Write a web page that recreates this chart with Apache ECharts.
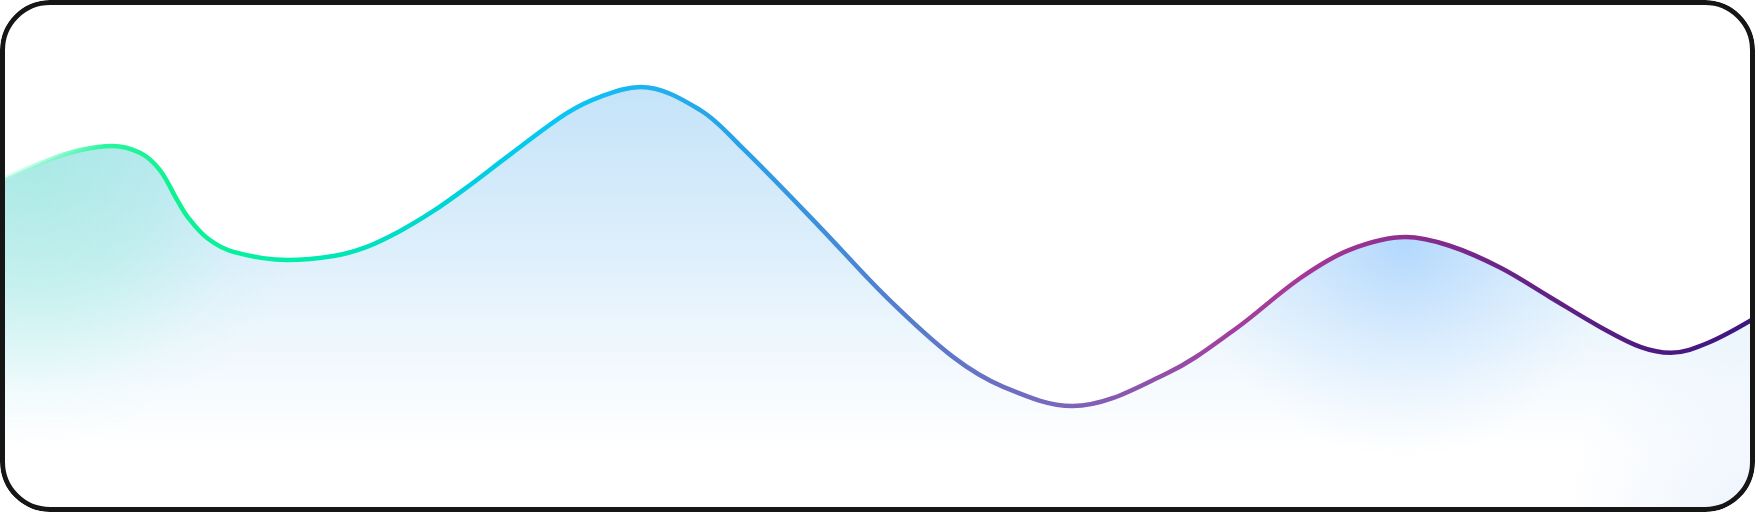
<!doctype html>
<html lang="en">
<head>
    <meta charset="UTF-8">
    <script src="https://cdn.jsdelivr.net/npm/echarts@6/dist/echarts.min.js"></script>
    <title>wave</title>
    <style>
        html, body { margin: 0; padding: 0; background: #fff; overflow: hidden; }
        #card { position: relative; width: 1755px; height: 512px; border-radius: 50px; overflow: hidden; }
        #main { position: absolute; left: 0; top: 0; width: 1755px; height: 512px; }
        #frame { position: absolute; left: 0; top: 0; width: 1755px; height: 512px; box-sizing: border-box;
                 border: 5px solid #161616; border-radius: 50px; pointer-events: none; }
    </style>
</head>
<body>
<div id="card">
    <div id="main"></div>
    <div id="frame"></div>
</div>
<script>
    // curve: x in % of width, y in % of height (0 = bottom)
    var xs = [0, 2.8, 4.6, 6.4, 8.0, 9.1, 10.1, 10.7, 11.8, 13.3, 16.4, 19.0, 20.9, 22.8, 24.7, 26.6,
              29.1, 32.3, 34.2, 36.5, 39.9, 42.3, 46.7, 50.5, 54.3, 57.2, 61.1, 66.5, 70.3, 74.1,
              76.9, 80.1, 82.6, 85.5, 88.3, 91.2, 93.5, 95.2, 97.3, 100];
    var ys = [64.8, 68.8, 70.7, 71.5, 70.1, 66.8, 60.9, 57.6, 53.5, 50.8, 49.2, 50.0, 51.8, 54.9, 58.8, 63.4,
              69.9, 77.9, 81.1, 83.0, 78.5, 71.1, 55.7, 42.0, 30.3, 24.4, 20.7, 27.1, 35.5, 45.7,
              51.2, 53.7, 52.0, 47.7, 42.0, 36.1, 32.2, 31.1, 33.0, 37.9];

    var points = [];
    for (var i = 0; i < xs.length; i++) {
        points.push([xs[i], ys[i]]);
    }

    var myChart = echarts.init(document.getElementById('main'));
    var G = echarts.graphic;
    var SMOOTH = 0.35;

    // same curve drawn several times, each one adds a layer of the fill
    function layer(name, fill) {
        return {
            name: name,
            type: 'line',
            data: points,
            smooth: SMOOTH,
            symbol: 'none',
            silent: true,
            lineStyle: {width: 0, opacity: 0},
            areaStyle: {color: fill}
        };
    }

    var option = {
        animation: false,
        grid: {left: 0, right: 0, top: 0, bottom: 0},
        xAxis: {type: 'value', min: 0, max: 100, show: false},
        yAxis: {type: 'value', min: 0, max: 100, show: false},
        series: [
            layer('base', new G.LinearGradient(0, 0, 0, 1, [
                {offset: 0, color: 'rgba(120,190,240,0.62)'},
                {offset: 0.38, color: 'rgba(120,190,240,0.36)'},
                {offset: 0.57, color: 'rgba(120,190,240,0.2)'},
                {offset: 0.74, color: 'rgba(120,190,240,0.07)'},
                {offset: 0.86, color: 'rgba(120,190,240,0)'}
            ])),
            layer('mint', new G.RadialGradient(0.02, 0.2, 0.8, [
                {offset: 0, color: 'rgba(90,235,185,0.45)'},
                {offset: 0.35, color: 'rgba(90,235,190,0.3)'},
                {offset: 0.65, color: 'rgba(90,235,200,0.05)'},
                {offset: 0.8, color: 'rgba(90,235,200,0)'}
            ])),
            layer('glow', new G.RadialGradient(0.8, 0.37, 0.5, [
                {offset: 0, color: 'rgba(130,190,255,0.65)'},
                {offset: 0.5, color: 'rgba(150,200,255,0.3)'},
                {offset: 1, color: 'rgba(170,210,255,0)'}
            ])),
            layer('corner', new G.RadialGradient(1, 1, 0.45, [
                {offset: 0, color: 'rgba(200,222,250,0.45)'},
                {offset: 1, color: 'rgba(200,222,250,0)'}
            ])),
            {
                name: 'line',
                type: 'line',
                data: points,
                smooth: SMOOTH,
                symbol: 'none',
                lineStyle: {
                    width: 4.5,
                    cap: 'round',
                    color: new G.LinearGradient(0, 0, 1, 0, [
                        {offset: 0, color: 'rgba(190,255,225,0.35)'},
                        {offset: 0.06, color: '#2bf5a0'},
                        {offset: 0.1, color: '#0ff291'},
                        {offset: 0.165, color: '#00eeaa'},
                        {offset: 0.23, color: '#00dcc8'},
                        {offset: 0.28, color: '#00cde6'},
                        {offset: 0.33, color: '#0cc3f6'},
                        {offset: 0.365, color: '#1eb3ef'},
                        {offset: 0.425, color: '#2aa0e6'},
                        {offset: 0.505, color: '#5080d0'},
                        {offset: 0.6, color: '#7868bc'},
                        {offset: 0.7, color: '#a23f9e'},
                        {offset: 0.74, color: '#a53898'},
                        {offset: 0.8, color: '#8e2e8f'},
                        {offset: 0.855, color: '#6b2487'},
                        {offset: 0.95, color: '#4a1a80'},
                        {offset: 1, color: '#3c1683'}
                    ])
                }
            }
        ]
    };

    myChart.setOption(option);
</script>
</body>
</html>
